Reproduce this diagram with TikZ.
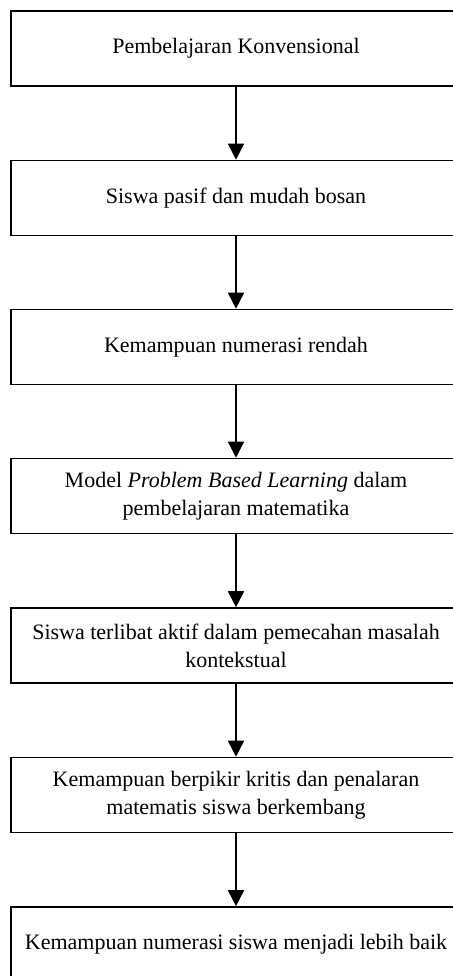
\documentclass[tikz,border=0pt]{standalone}
\usepackage{fontspec}
\setmainfont{Liberation Serif}
\usetikzlibrary{arrows.meta}
\tikzset{
	kotak/.style={draw, line width=0.8pt, minimum width=225pt, minimum height=37.5pt, align=center, inner sep=0pt, font=\fontsize{11}{14}\selectfont},
	panah/.style={line width=0.8pt, -{Triangle[width=8pt,length=8pt]}}
}
\begin{document}
\begin{tikzpicture}[x=0.5pt,y=-0.5pt]
	\useasboundingbox (0,0) rectangle (453,976);
	\node[kotak] (KA) at (236,48.5) {Pembelajaran Konvensional};
	\node[kotak] (KB) at (236,198) {Siswa pasif dan mudah bosan};
	\node[kotak] (KC) at (236,347) {Kemampuan numerasi rendah};
	\node[kotak] (KD) at (236,496) {Model \textit{Problem Based Learning} dalam\\pembelajaran matematika};
	\node[kotak] (KE) at (236,645.5) {Siswa terlibat aktif dalam pemecahan masalah\\kontekstual};
	\node[kotak] (KF) at (236,795) {Kemampuan berpikir kritis dan penalaran\\matematis siswa berkembang};
	\node[kotak] (KG) at (236,944.5) {Kemampuan numerasi siswa menjadi lebih baik};

	\draw[panah] (KA)--(KB);
	\draw[panah] (KB)--(KC);
	\draw[panah] (KC)--(KD);
	\draw[panah] (KD)--(KE);
	\draw[panah] (KE)--(KF);
	\draw[panah] (KF)--(KG);
\end{tikzpicture}
\end{document}
